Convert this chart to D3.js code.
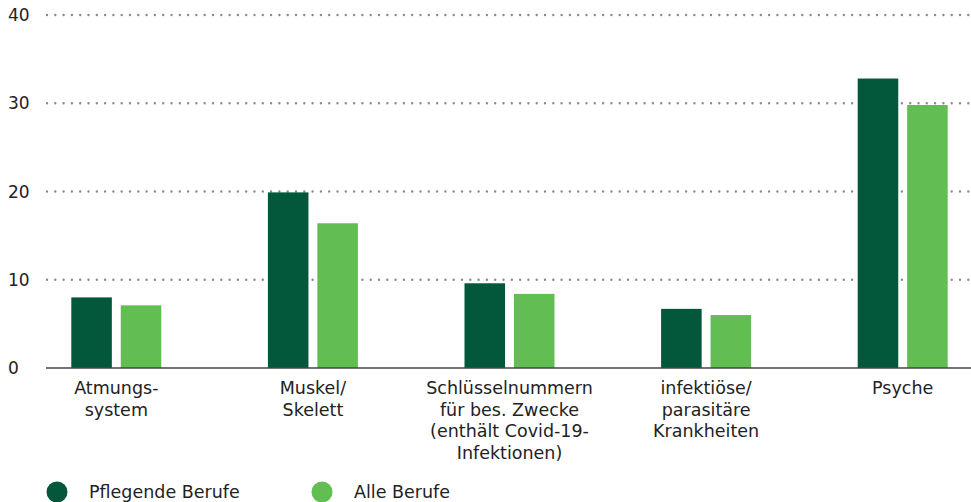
<!DOCTYPE html>
<html>
<head>
<meta charset="utf-8">
<script src="https://cdn.jsdelivr.net/npm/d3@7"></script>
<style>
  body { margin: 0; background: #fff; }
  svg { display: block; font-family: "DejaVu Sans", sans-serif; }
</style>
</head>
<body>
<div id="chart"></div>
<script>
(function() {

    // data
    var categories = [
        ["Atmungs-", "system"],
        ["Muskel/", "Skelett"],
        ["Schlüsselnummern", "für bes. Zwecke", "(enthält Covid-19-", "Infektionen)"],
        ["infektiöse/", "parasitäre", "Krankheiten"],
        ["Psyche"]
    ];
    var seriesNames = ["Pflegende Berufe", "Alle Berufe"];
    var pflegende = [8.0, 19.9, 9.6, 6.7, 32.8];
    var alle = [7.1, 16.4, 8.4, 6.0, 29.8];
    var yTicks = [0, 10, 20, 30, 40];
    var colors = ["#03573A", "#62BD52"];

    var width = 971, height = 502;

    var svg = d3.select("#chart").append("svg")
        .attr("width", width)
        .attr("height", height);

    var y = d3.scaleLinear().domain([0, 40]).range([368, 15]);

    var x = d3.scaleBand()
        .domain(d3.range(categories.length))
        .range([18, 1001]);

    var inner = d3.scaleBand()
        .domain([0, 1])
        .range([0, 90])
        .paddingInner(0.18);

    // grid
    var grid = svg.append("g")
    grid.selectAll("line")
        .data(yTicks.filter(d => d > 0))
        .enter().append("line")
        .attr("x1", 47)
        .attr("x2", width)
        .attr("y1", d => y(d))
        .attr("y2", d => y(d))
        .attr("stroke", "#8a8a8a")
        .attr("stroke-width", 2.4)
        .attr("stroke-linecap", "round")
        .attr("stroke-dasharray", "0 8.3")

    // tick labels
    svg.append("g").selectAll("text")
        .data(yTicks)
        .enter().append("text")
        .attr("x", 8)
        .attr("y", d => y(d) + 6)
        .attr("font-size", "17px")
        .attr("fill", "#222")
        .text(d => d)

    // bars
    var groups = svg.append("g").selectAll("g")
        .data(categories.map((c, i) => ({i: i, vals: [pflegende[i], alle[i]]})))
        .enter().append("g")
        .attr("transform", d => "translate(" + (x(d.i) + x.bandwidth() / 2 - 45) + ",0)")

    groups.selectAll("rect")
        .data(d => d.vals)
        .enter().append("rect")
        .attr("x", (d, j) => inner(j))
        .attr("width", inner.bandwidth())
        .attr("y", d => y(d))
        .attr("height", d => y(0) - y(d))
        .attr("fill", (d, j) => colors[j])

    // baseline
    svg.append("line")
        .attr("x1", 46).attr("x2", width)
        .attr("y1", y(0)).attr("y2", y(0))
        .attr("stroke", "#444")
        .attr("stroke-width", 1.5)

    // category labels
    svg.append("g").selectAll("text")
        .data(categories)
        .enter().append("text")
        .attr("text-anchor", "middle")
        .attr("font-size", "17.5px")
        .attr("fill", "#222")
        .attr("transform", (d, i) => "translate(" + (x(i) + x.bandwidth() / 2) + ",394)")
        .selectAll("tspan")
        .data(d => d)
        .enter().append("tspan")
        .attr("x", 0)
        .attr("y", (d, k) => k * 21.5)
        .text(d => d)

    // legend
    var legendX = [57, 322];
    var legend = svg.append("g").selectAll("g")
        .data(seriesNames)
        .enter().append("g")
        .attr("transform", (d, i) => "translate(" + legendX[i] + ",492)")
    legend.append("circle")
        .attr("r", 10.5)
        .attr("fill", (d, i) => colors[i])
    legend.append("text")
        .attr("x", 32)
        .attr("y", 6)
        .attr("font-size", "17.5px")
        .attr("fill", "#222")
        .text(d => d)

})()
</script>
</body>
</html>
